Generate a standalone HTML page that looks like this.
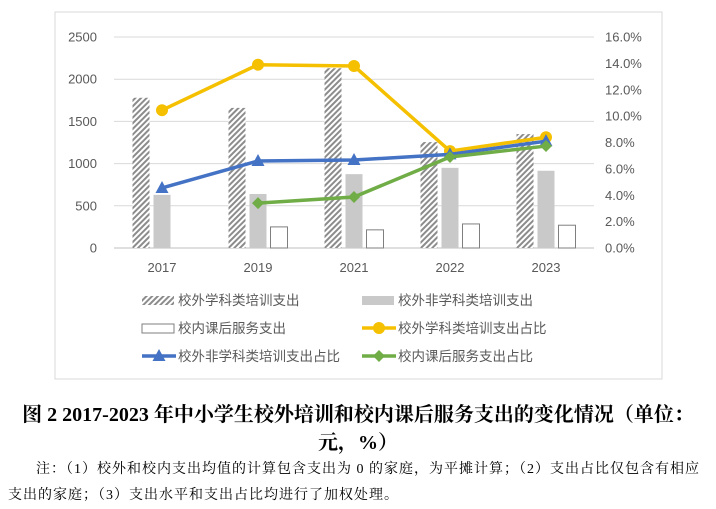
<!DOCTYPE html>
<html><head><meta charset="utf-8"><style>
body{margin:0;width:716px;height:509px;background:#fff;overflow:hidden;font-family:"Liberation Sans","Noto Sans CJK SC",sans-serif;}
.cap{position:absolute;left:0;width:716px;text-align:center;font-family:"Liberation Serif","Noto Serif CJK SC",serif;font-weight:bold;font-size:20px;color:#000;}
.note{position:absolute;font-family:"Liberation Serif","Noto Serif CJK SC",serif;font-size:14px;letter-spacing:1px;color:#000;white-space:nowrap;}
</style></head><body>
<svg id="chart" width="716" height="390" style="position:absolute;left:0;top:0" xmlns="http://www.w3.org/2000/svg">
<defs><pattern id="hatch" width="4" height="4" patternUnits="userSpaceOnUse" patternTransform="rotate(45)"><rect width="4" height="4" fill="#fff"/><rect width="2" height="4" fill="#8c8c8c"/></pattern></defs>
<rect x="55" y="12" width="607" height="367" fill="none" stroke="#d9d9d9"/>
<g id="grid"></g><g id="bars"></g><g id="lines"></g><g id="legend" font-size="13" fill="#595959"></g>
</svg>
<div class="cap" style="top:398px">图 2 2017-2023 年中小学生校外培训和校内课后服务支出的变化情况（单位：</div>
<div class="cap" style="top:426px">元，%）</div>
<div class="note" style="left:36px;top:458px">注：（1）校外和校内支出均值的计算包含支出为 0 的家庭，为平摊计算；（2）支出占比仅包含有相应</div>
<div class="note" style="left:8px;top:484px">支出的家庭；（3）支出水平和支出占比均进行了加权处理。</div>
<script>
const categories=["2017","2019","2021","2022","2023"];
const outSubject=[1780,1660,2130,1255,1350];
const outNonSubject=[630,640,875,950,915];
const inSchool=[null,250,215,285,270];
const outSubjectPct=[10.45,13.9,13.8,7.35,8.4];
const outNonSubjectPct=[4.55,6.6,6.67,7.1,8.1];
const inSchoolPct=[null,3.4,3.87,6.9,7.73];
const leftTicks=[0,500,1000,1500,2000,2500];
const rightTicks=[0,2,4,6,8,10,12,14,16];
const NS="http://www.w3.org/2000/svg";
const X0=114,X1=594,Y0=248,Y1=37;
const band=(X1-X0)/categories.length;
const xc=i=>X0+band*(i+0.5);
const yL=v=>Y0-(v/2500)*(Y0-Y1);
const yR=v=>Y0-(v/16)*(Y0-Y1);
function mk(tag,attrs,parent,txt){const e=document.createElementNS(NS,tag);for(const k in attrs)e.setAttribute(k,attrs[k]);if(txt!=null)e.textContent=txt;document.getElementById(parent).appendChild(e);return e;}
leftTicks.forEach(t=>{
 const l=mk('line',{x1:X0,x2:X1,y1:yL(t),y2:yL(t),stroke:t===0?'#bfbfbf':'#d9d9d9'},'grid');
 
 
 const tx=mk('text',{x:97,y:yL(t)+4.5,'text-anchor':'end','font-size':13,fill:'#595959'},'grid',t);
 
 
});
rightTicks.forEach(t=>{
 const tx=mk('text',{x:605,y:yR(t)+4.5,'font-size':13,fill:'#595959'},'grid',t.toFixed(1)+'%');
 
 
});
categories.forEach((c,i)=>{
 const tx=mk('text',{x:xc(i),y:272,'text-anchor':'middle','font-size':13,fill:'#595959'},'grid',c);
 
 
});
const bw=17;
[[outSubject,'url(#hatch)','none',-21],[outNonSubject,'#c9c9c9','none',0],[inSchool,'#fff','#7f7f7f',21]].forEach(([arr,f,s,off])=>{
 arr.forEach((v,i)=>{ if(v==null)return;
  const r=mk('rect',{x:xc(i)+off-bw/2,y:yL(v),width:bw,height:Y0-yL(v),fill:f,stroke:s},'bars');
  
  
 });
});
function series(arr,color,marker){
 const pts=[];arr.forEach((v,i)=>{if(v!=null)pts.push([xc(i),yR(v)]);});
 const p=mk('polyline',{points:pts.map(p=>p.join(',')).join(' '),fill:'none',stroke:color,'stroke-width':3.5},'lines');
 
 
 pts.forEach(([x,y])=>{drawMarker(x,y,color,marker,'lines');});
}
function drawMarker(x,y,color,marker,parent){
 let m;
 if(marker==='circle')m=mk('circle',{cx:x,cy:y,r:6,fill:color},parent);
 else if(marker==='tri')m=mk('polygon',{points:`${x},${y-7} ${x-6.5},${y+5} ${x+6.5},${y+5}`,fill:color},parent);
 else m=mk('polygon',{points:`${x},${y-6} ${x+6},${y} ${x},${y+6} ${x-6},${y}`,fill:color},parent);
 
 
}
series(outSubjectPct,'#f5c000','circle');
series(outNonSubjectPct,'#4472c4','tri');
series(inSchoolPct,'#70ad47','diamond');
const leg=[[142,300,'hatch','校外学科类培训支出'],[362,300,'gray','校外非学科类培训支出'],[142,328,'white','校内课后服务支出'],[362,328,'#f5c000/circle','校外学科类培训支出占比'],[142,356,'#4472c4/tri','校外非学科类培训支出占比'],[362,356,'#70ad47/diamond','校内课后服务支出占比']];
leg.forEach(([x,y,k,t])=>{
 if(k==='hatch')mk('rect',{x:x,y:y-4,width:32,height:9,fill:'url(#hatch)'},'legend');
 else if(k==='gray')mk('rect',{x:x,y:y-4,width:32,height:9,fill:'#c9c9c9'},'legend');
 else if(k==='white')mk('rect',{x:x,y:y-4,width:32,height:9,fill:'#fff',stroke:'#7f7f7f'},'legend');
 else{const [c,m]=k.split('/');mk('line',{x1:x,x2:x+34,y1:y,y2:y,stroke:c,'stroke-width':3.5},'legend');drawMarker(x+17,y,c,m,'legend');}
 const tx=mk('text',{x:x+36,y:y+5,'font-size':13.5},'legend',t);
 
 
});
</script>
</body></html>
